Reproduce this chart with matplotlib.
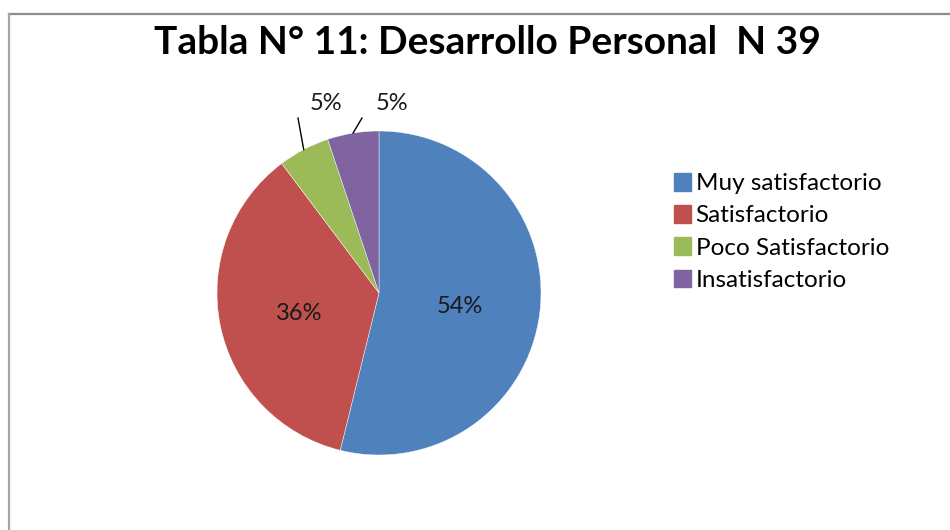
import numpy as np
import matplotlib.pyplot as plt
from matplotlib.lines import Line2D

# data
categorias = ["Muy satisfactorio", "Satisfactorio", "Poco Satisfactorio", "Insatisfactorio"]
frecuencias = [21, 14, 2, 2]   # N = 39
colores = ["#4F81BD", "#C0504D", "#9BBB59", "#8064A2"]

plt.rcParams['font.family'] = ['Lato', 'DejaVu Sans']

W, H = 950, 530
fig = plt.figure(figsize=(W / 100, H / 100), dpi=100)

# gray frame lines (top and left of the chart box)
fig.add_artist(Line2D([8.5 / W, 1], [1 - 13.5 / H, 1 - 13.5 / H], color="#8c8c8c", lw=1.6))
fig.add_artist(Line2D([8.5 / W, 8.5 / W], [0, 1 - 13.5 / H], color="#a6a6a6", lw=1.6))

cx, cy, r = 379, 293, 162
ax = fig.add_axes([(cx - r) / W, (H - cy - r) / H, 2 * r / W, 2 * r / H])

total = sum(frecuencias)
wedges, _ = ax.pie(frecuencias, colors=colores, startangle=90, counterclock=False,
                   radius=1.0, wedgeprops=dict(linewidth=0.3, edgecolor="white"))
ax.set_xlim(-1, 1)
ax.set_ylim(-1, 1)
ax.set_aspect("equal")
ax.axis("off")

# percentage labels
for i, w in enumerate(wedges):
    pct = "{:.0f}%".format(100 * frecuencias[i] / total)
    ang = np.deg2rad((w.theta1 + w.theta2) / 2)
    if frecuencias[i] / total > 0.2:
        ax.text(0.5 * np.cos(ang), 0.5 * np.sin(ang) - 0.025, pct, ha="center", va="center",
                fontsize=17, color="#1a1a1a")
    else:
        x0, y0 = np.cos(ang), np.sin(ang)
        # leader line from the edge up to the label
        tx = -0.33 if i == 2 else 0.08
        lx = -0.50 if i == 2 else -0.105
        ax.plot([x0, lx], [y0, 1.08], color="black", lw=1, clip_on=False)
        ax.text(tx, 1.17, pct, ha="center", va="center", fontsize=17, color="#1a1a1a")

fig.text(487 / W, 1 - 42 / H, "Tabla N° 11: Desarrollo Personal  N 39", ha="center", va="center",
         fontsize=28, fontweight="bold", color="black")

handles = [plt.Rectangle((0, 0), 1, 1, color=c) for c in colores]
fig.legend(handles, categorias, loc="upper left", bbox_to_anchor=(664 / W, 1 - 163 / H),
           frameon=False, fontsize=17.5, handlelength=0.7, handleheight=0.75,
           handletextpad=0.2, labelspacing=0.45, borderaxespad=0)

fig.savefig("out.png", dpi=100)
